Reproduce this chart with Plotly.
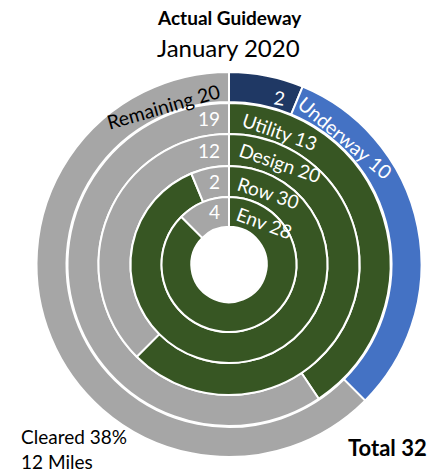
import plotly.graph_objects as go

# ---- data ----
outer_labels = ["Complete", "Underway", "Remaining"]
outer_values = [2, 10, 20]
ring_names = ["Utility", "Design", "Row", "Env"]          # outer -> inner
ring_cleared = [13, 20, 30, 28]
ring_remaining = [19, 12, 2, 4]
total_miles = 32
cleared_pct = 38
cleared_miles = 12

# ---- layout constants ----
W, H = 431, 472
cx, cy = 229, 264.5
FONT = "Lato"
NAVY, BLUE, GREEN, GRAY = "#1F3864", "#4472C4", "#375623", "#A6A6A6"
# ring radii (outer, inner) in px: outer ring, then inner rings
radii = [(192.5, 162.5), (161.5, 130.5), (130.5, 98.5), (98.5, 67.5), (67.5, 37.7)]


def dom(R):
    return dict(x=[(cx - R) / W, (cx + R) / W],
                y=[(H - cy - R) / H, (H - cy + R) / H])


fig = go.Figure()
line = dict(color="white", width=2)

Ro, Ri = radii[0]
fig.add_trace(go.Pie(labels=outer_labels, values=outer_values, sort=False,
                     direction="clockwise", rotation=0, hole=Ri / Ro,
                     domain=dom(Ro), textinfo="none", hoverinfo="skip",
                     marker=dict(colors=[NAVY, BLUE, GRAY], line=line),
                     showlegend=False))
for k, name in enumerate(ring_names):
    Ro, Ri = radii[k + 1]
    fig.add_trace(go.Pie(labels=[name, name + " remaining"],
                         values=[ring_cleared[k], ring_remaining[k]],
                         sort=False, direction="clockwise", rotation=0,
                         hole=Ri / Ro, domain=dom(Ro), textinfo="none",
                         hoverinfo="skip",
                         marker=dict(colors=[GREEN, GRAY], line=line),
                         showlegend=False))

ann = []


def px_ann(text, x, y, size, color="black", angle=0, xanchor="center",
           bold=False):
    if bold:
        text = "<b>" + text + "</b>"
    ann.append(dict(text=text, x=x / W, y=1 - y / H, xref="paper",
                    yref="paper", xanchor=xanchor, yanchor="middle",
                    showarrow=False, textangle=angle,
                    font=dict(family=FONT, size=size, color=color)))


# titles
px_ann("Actual Guideway", 230, 17, 19, bold=True)
px_ann("January 2020", 228, 48, 24)

# outer ring labels
px_ann(f"Remaining {outer_values[2]}", 163, 106, 19.5, angle=-16)
px_ann(f"{outer_values[0]}", 279, 97, 19, color="white", angle=8)
px_ann(f"Underway {outer_values[1]}", 345, 137, 19.5, color="white", angle=40)

# inner ring labels
green_pos = [(280, 132, 19), (280, 162, 19), (268, 192, 18), (264, 222, 20)]
for k, name in enumerate(ring_names):
    Ro, Ri = radii[k + 1]
    rm = (Ro + Ri) / 2
    gx, gy, ga = green_pos[k]
    px_ann(f"{name} {ring_cleared[k]}", gx, gy, 19, color="white", angle=ga)
    px_ann(f"{ring_remaining[k]}", cx - 7, cy - rm, 19, color="white",
           xanchor="right")

# footer
ann.append(dict(text=f"Cleared {cleared_pct}%<br>{cleared_miles} Miles",
                x=19 / W, y=1 - 449 / H, xref="paper", yref="paper",
                xanchor="left", yanchor="middle", align="left",
                showarrow=False, font=dict(family=FONT, size=19, color="black")))
px_ann(f"Total {total_miles}", 429, 447, 22, xanchor="right", bold=True)

fig.update_layout(width=W, height=H, autosize=False,
                  margin=dict(l=0, r=0, t=0, b=0),
                  paper_bgcolor="white", plot_bgcolor="white",
                  annotations=ann, showlegend=False)

fig.write_html("out.html", config={"displayModeBar": False},
               post_script="document.body.style.margin='0';"
                           "document.body.style.overflow='hidden';")
